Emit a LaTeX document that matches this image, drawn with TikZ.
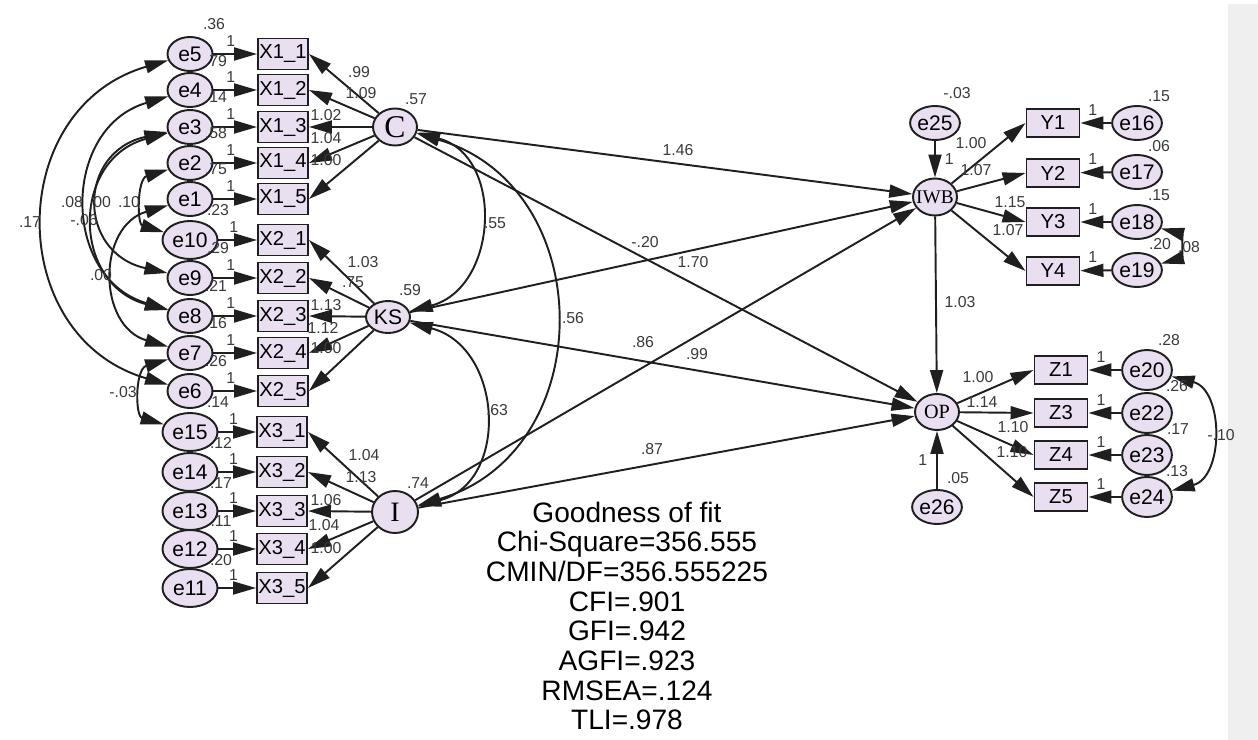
\documentclass[tikz,border=0pt]{standalone}
\usepackage{fontspec}
\setmainfont{Liberation Sans}
\newfontfamily\romanfont{Liberation Serif}
\usetikzlibrary{arrows.meta, shapes.geometric}
\definecolor{lilac}{HTML}{E9DFF1}
\definecolor{ink}{HTML}{1F1F1F}
\definecolor{numgray}{HTML}{3A3A3A}
\definecolor{panel}{HTML}{EFEFEF}

\tikzset{
  errnode/.style={ellipse, draw=ink, line width=1.1pt, fill=lilac, inner sep=0pt,
    minimum width=0.9cm, minimum height=0.68cm, font=\fontsize{12}{12}\selectfont},
  errwide/.style={errnode, minimum width=1.1cm, minimum height=0.76cm},
  errround/.style={errnode, minimum width=0.88cm, minimum height=0.8cm},
  obsbox/.style={rectangle, draw=ink, line width=1.1pt, fill=lilac, inner sep=0pt,
    minimum width=1.0cm, minimum height=0.62cm, font=\fontsize{11.5}{11.5}\selectfont},
  outbox/.style={obsbox, minimum width=1.06cm, minimum height=0.56cm},
  latent/.style={ellipse, draw=ink, line width=1.1pt, fill=lilac, inner sep=0pt,
    minimum width=0.88cm, minimum height=0.74cm},
  est/.style={text=numgray, font=\fontsize{9}{9}\selectfont, inner sep=0pt},
  reg/.style={ink, line width=1.1pt, ->},
  cov/.style={ink, line width=1.1pt, <->},
}

\begin{document}
\begin{tikzpicture}[x=0.02cm, y=-0.02cm, >={Triangle[length=4.6mm, width=2.6mm]}]

% Background
\fill[white] (0,0) rectangle (1258,740);
\fill[panel] (1228,4) rectangle (1258,740);
\useasboundingbox (0,0) rectangle (1258,740);

% --- Error terms and indicators (left column) ---
\node[errnode] (e5)  at (190,54)  {e5};   \node[obsbox] (x11) at (283,54)  {X1\_1};
\node[errnode] (e4)  at (190,90)  {e4};   \node[obsbox] (x12) at (283,90)  {X1\_2};
\node[errnode] (e3)  at (190,127) {e3};   \node[obsbox] (x13) at (283,127) {X1\_3};
\node[errnode] (e2)  at (190,163) {e2};   \node[obsbox] (x14) at (283,163) {X1\_4};
\node[errnode] (e1)  at (190,199) {e1};   \node[obsbox] (x15) at (283,199) {X1\_5};
\node[errwide] (e10) at (190,240) {e10};  \node[obsbox] (x21) at (283,240) {X2\_1};
\node[errnode] (e9)  at (190,278) {e9};   \node[obsbox] (x22) at (283,278) {X2\_2};
\node[errnode] (e8)  at (190,316) {e8};   \node[obsbox] (x23) at (283,316) {X2\_3};
\node[errnode] (e7)  at (190,353) {e7};   \node[obsbox] (x24) at (283,353) {X2\_4};
\node[errnode] (e6)  at (190,391) {e6};   \node[obsbox] (x25) at (283,391) {X2\_5};
\node[errwide] (e15) at (190,432) {e15};  \node[obsbox] (x31) at (282,432) {X3\_1};
\node[errwide] (e14) at (190,472) {e14};  \node[obsbox] (x32) at (282,472) {X3\_2};
\node[errwide] (e13) at (190,511) {e13};  \node[obsbox] (x33) at (282,511) {X3\_3};
\node[errwide] (e12) at (190,549) {e12};  \node[obsbox] (x34) at (282,549) {X3\_4};
\node[errwide] (e11) at (190,588) {e11};  \node[obsbox] (x35) at (282,588) {X3\_5};

\draw[reg] (e5)  -- node[est, pos=0.4, above=4pt] (u5)  {1} (x11);
\draw[reg] (e4)  -- node[est, pos=0.4, above=4pt] (u4)  {1} (x12);
\draw[reg] (e3)  -- node[est, pos=0.4, above=4pt] (u3)  {1} (x13);
\draw[reg] (e2)  -- node[est, pos=0.4, above=4pt] (u2)  {1} (x14);
\draw[reg] (e1)  -- node[est, pos=0.4, above=4pt] (u1)  {1} (x15);
\draw[reg] (e10) -- node[est, pos=0.4, above=4pt] (u10) {1} (x21);
\draw[reg] (e9)  -- node[est, pos=0.4, above=4pt] (u9)  {1} (x22);
\draw[reg] (e8)  -- node[est, pos=0.4, above=4pt] (u8)  {1} (x23);
\draw[reg] (e7)  -- node[est, pos=0.4, above=4pt] (u7)  {1} (x24);
\draw[reg] (e6)  -- node[est, pos=0.4, above=4pt] (u6)  {1} (x25);
\draw[reg] (e15) -- node[est, pos=0.4, above=4pt] (u15) {1} (x31);
\draw[reg] (e14) -- node[est, pos=0.4, above=4pt] (u14) {1} (x32);
\draw[reg] (e13) -- node[est, pos=0.4, above=4pt] (u13) {1} (x33);
\draw[reg] (e12) -- node[est, pos=0.4, above=4pt] (u12) {1} (x34);
\draw[reg] (e11) -- node[est, pos=0.4, above=4pt] (u11) {1} (x35);

% error variances
\node[est] (v5)  at (214,24)  {.36};
\node[est] (v4)  at (216,61)  {.79};
\node[est] (v3)  at (216,97)  {.14};
\node[est] (v2)  at (216,133) {.58};
\node[est] (v1)  at (216,169) {.75};
\node[est] (v10) at (218,210) {.23};
\node[est] (v9)  at (218,248) {.29};
\node[est] (v8)  at (216,286) {.21};
\node[est] (v7)  at (216,323) {.16};
\node[est] (v6)  at (216,361) {.26};
\node[est] (v15) at (218,402) {.14};
\node[est] (v14) at (221,443) {.12};
\node[est] (v13) at (221,483) {.17};
\node[est] (v12) at (221,521) {.11};
\node[est] (v11) at (221,560) {.20};

% --- Error covariances (left) ---
\draw[cov] (e5) .. controls +(-186,54) and +(-186,-54) .. (e6);
\draw[cov] (e4) .. controls +(-129,38) and +(-129,-38) .. (e8);
\draw[cov] (e3) .. controls +(-119,32) and +(-119,-32) .. (e8);
\draw[cov] (e3) .. controls +(-113,25) and +(-113,-25) .. (e9);
\draw[cov] (e1) .. controls +(-93,27) and +(-93,-27) .. (e7);
\draw[cov] (e2) .. controls +(-53,16) and +(-53,-16) .. (e10);
\draw[cov] (e7) .. controls +(-55,16) and +(-55,-16) .. (e15);
\node[est] (c17) at (30,222)  {.17};
\node[est] (c08) at (72,202)  {.08};
\node[est] (c00) at (100,202) {.00};
\node[est] (c10) at (129,202) {.10};
\node[est] (c06) at (84,220)  {-.06};
\node[est] (c0b) at (101,275) {.00};
\node[est] (c03) at (123,392) {-.03};

% --- Latent factors ---
\node[latent, font=\romanfont\fontsize{18}{18}\selectfont] (C) at (395,127) {C};
\node[latent, minimum height=0.64cm, font=\fontsize{12}{12}\selectfont] (KS) at (388,317) {KS};
\node[latent, minimum width=0.92cm, minimum height=0.84cm,
      font=\romanfont\fontsize{16}{16}\selectfont] (I) at (395,512) {I};
\node[latent, inner xsep=-2.3pt, font=\romanfont\fontsize{11}{11}\selectfont] (IWB) at (935,197) {IWB};
\node[latent, minimum height=0.72cm, font=\romanfont\fontsize{11.5}{11.5}\selectfont] (OP) at (937,412) {OP};

\node[est] (vC)  at (416,99)  {.57};
\node[est] (vKS) at (410,290) {.59};
\node[est] (vI)  at (418,483) {.74};

% loadings
\draw[reg] (C) -- (x11.east);  \draw[reg] (C) -- (x12.east);  \draw[reg] (C) -- (x13.east);
\draw[reg] (C) -- (x14.east);  \draw[reg] (C) -- (x15.east);
\draw[reg] (KS) -- (x21.east); \draw[reg] (KS) -- (x22.east); \draw[reg] (KS) -- (x23.east);
\draw[reg] (KS) -- (x24.east); \draw[reg] (KS) -- (x25.east);
\draw[reg] (I) -- (x31.east);  \draw[reg] (I) -- (x32.east);  \draw[reg] (I) -- (x33.east);
\draw[reg] (I) -- (x34.east);  \draw[reg] (I) -- (x35.east);

\node[est] (wC1) at (359,72)  {.99};
\node[est] (wC2) at (361,93)  {1.09};
\node[est] (wC3) at (326,115) {1.02};
\node[est] (wC4) at (326,138) {1.04};
\node[est] (wC5) at (326,160) {1.00};
\node[est] (wK1) at (363,262) {1.03};
\node[est] (wK2) at (353,282) {.75};
\node[est] (wK3) at (326,305) {1.13};
\node[est] (wK4) at (323,328) {1.12};
\node[est] (wK5) at (326,348) {1.00};
\node[est] (wI1) at (364,455) {1.04};
\node[est] (wI2) at (361,477) {1.13};
\node[est] (wI3) at (326,500) {1.06};
\node[est] (wI4) at (324,525) {1.04};
\node[est] (wI5) at (326,548) {1.00};

% factor covariances
\draw[cov] (C) .. controls +(110,29) and +(110,-29) .. (KS);
\draw[cov] (C) .. controls +(205,60) and +(205,-60) .. (I);
\draw[cov] (KS) .. controls +(115,30) and +(115,-30) .. (I);
\node[est] (cCK) at (495,223) {.55};
\node[est] (cCI) at (573,318) {.56};
\node[est] (cKI) at (497,410) {.63};

% --- Structural paths ---
\draw[reg] (C) -- (IWB);
\draw[reg] (C) -- (OP);
\draw[reg] (KS) -- (IWB);
\draw[reg] (KS) -- (OP);
\draw[reg] (I) -- (IWB);
\draw[reg] (I) -- (OP);
\draw[reg] (IWB) -- (OP);
\node[est] (bCW) at (678,150) {1.46};
\node[est] (bKW) at (645,242) {-.20};
\node[est] (bCO) at (693,262) {1.70};
\node[est] (bIW) at (643,342) {.86};
\node[est] (bKO) at (697,354) {.99};
\node[est] (bIO) at (652,449) {.87};
\node[est] (bWO) at (960,302) {1.03};

% --- Outcome measurement (right) ---
\node[errnode] (e25) at (935,123) {e25};
\node[errnode] (e26) at (937,507) {e26};
\node[est] (v25) at (957,93)  {-.03};
\node[est] (v26) at (958,478) {.05};
\draw[reg] (e25) -- node[est, right=5pt] (u25) {1} (IWB);
\draw[reg] (e26) -- node[est, left=5pt] (u26) {1} (OP);

\node[outbox] (y1) at (1053,123) {Y1};  \node[errnode] (e16) at (1137,123) {e16};
\node[outbox] (y2) at (1053,173) {Y2};  \node[errnode] (e17) at (1137,172) {e17};
\node[outbox] (y3) at (1053,222) {Y3};  \node[errnode] (e18) at (1137,222) {e18};
\node[outbox] (y4) at (1053,271) {Y4};  \node[errnode] (e19) at (1137,270) {e19};

\draw[reg] (IWB) -- (y1.west); \draw[reg] (IWB) -- (y2.west);
\draw[reg] (IWB) -- (y3.west); \draw[reg] (IWB) -- (y4.west);
\draw[reg] (e16) -- node[est, pos=0.6, above=4pt] (u16) {1} (y1);
\draw[reg] (e17) -- node[est, pos=0.6, above=4pt] (u17) {1} (y2);
\draw[reg] (e18) -- node[est, pos=0.6, above=4pt] (u18) {1} (y3);
\draw[reg] (e19) -- node[est, pos=0.6, above=4pt] (u19) {1} (y4);
\draw[cov] (e18) .. controls +(45,12) and +(45,-12) .. (e19);

\node[est] (wY1) at (971,143)  {1.00};
\node[est] (wY2) at (976,170)  {1.07};
\node[est] (wY3) at (1010,202) {1.15};
\node[est] (wY4) at (1008,230) {1.07};
\node[est] (v16) at (1159,96)  {.15};
\node[est] (v17) at (1159,146) {.06};
\node[est] (v18) at (1159,195) {.15};
\node[est] (v19) at (1160,244) {.20};
\node[est] (c1819) at (1189,247) {.08};

\node[outbox] (z1) at (1061,370) {Z1};  \node[errround] (e20) at (1147,370) {e20};
\node[outbox] (z3) at (1061,413) {Z3};  \node[errround] (e22) at (1147,413) {e22};
\node[outbox] (z4) at (1061,455) {Z4};  \node[errround] (e23) at (1147,455) {e23};
\node[outbox] (z5) at (1061,497) {Z5};  \node[errround] (e24) at (1147,497) {e24};

\draw[reg] (OP) -- (z1.west); \draw[reg] (OP) -- (z3.west);
\draw[reg] (OP) -- (z4.west); \draw[reg] (OP) -- (z5.west);
\draw[reg] (e20) -- node[est, pos=0.62, above=4pt] (u20) {1} (z1);
\draw[reg] (e22) -- node[est, pos=0.62, above=4pt] (u22) {1} (z3);
\draw[reg] (e23) -- node[est, pos=0.62, above=4pt] (u23) {1} (z4);
\draw[reg] (e24) -- node[est, pos=0.62, above=4pt] (u24) {1} (z5);
\draw[cov] (e20) .. controls +(77,20) and +(77,-20) .. (e24);

\node[est] (wZ1) at (978,377)  {1.00};
\node[est] (wZ3) at (982,402)  {1.14};
\node[est] (wZ4) at (1013,427) {1.10};
\node[est] (wZ5) at (1012,452) {1.10};
\node[est] (v20) at (1169,340) {.28};
\node[est] (v22) at (1177,386) {.26};
\node[est] (v23) at (1178,429) {.17};
\node[est] (v24) at (1177,471) {.13};
\node[est] (c2024) at (1221,435) {-.10};

% --- Fit summary ---
\node[text=black, font=\fontsize{16}{16.9}\selectfont, align=center] (fit) at (627,616)
  {Goodness of fit\\Chi-Square=356.555\\CMIN/DF=356.555225\\CFI=.901\\GFI=.942\\
   AGFI=.923\\RMSEA=.124\\TLI=.978};

\end{tikzpicture}
\end{document}
